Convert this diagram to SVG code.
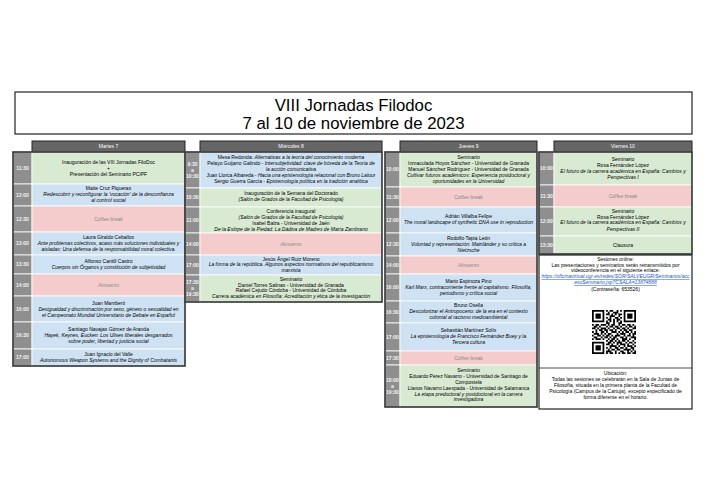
<svg xmlns="http://www.w3.org/2000/svg" width="707" height="500" viewBox="0 0 707 500">
<style>
.t{font-family:"Liberation Sans",Arial,sans-serif;font-size:5px;text-anchor:middle;fill:#000}
.i{font-style:italic}
.cb{fill:#8a8a8a}
.tm{font-family:"Liberation Sans",Arial,sans-serif;font-size:5px;font-weight:bold;text-anchor:middle;fill:#f2f2f2}
.g{fill:#d9ead3;stroke:#fff;stroke-width:0.8}
.b{fill:#cfe2f3;stroke:#fff;stroke-width:0.8}
.p{fill:#f4cccc;stroke:#fff;stroke-width:0.8}
.tc{fill:#8f8f8f;stroke:#fff;stroke-width:0.8}
.frame{fill:none;stroke:#333;stroke-width:1.6}
.hd{fill:#666;stroke:#222;stroke-width:1}
.ht{font-family:"Liberation Sans",Arial,sans-serif;font-size:5px;fill:#fff;text-anchor:middle}
.ttl{font-family:"Liberation Sans",Arial,sans-serif;font-size:16.8px;text-anchor:middle;fill:#000}
.lk{fill:#1a56c8;text-decoration:underline;font-style:italic}
</style>
<rect width="707" height="500" fill="#fff"/>
<g id="title">
<rect x="15" y="92" width="677" height="42" fill="#fff" stroke="#222" stroke-width="1.2"/>
<text class="ttl" x="353.5" y="111">VIII Jornadas Filodoc</text>
<text class="ttl" x="353.5" y="129">7 al 10 de noviembre de 2023</text>
</g>
<g id="headers">
<rect class="hd" x="32" y="141" width="153" height="11"/><text class="ht" x="108.5" y="148.3">Martes 7</text>
<rect class="hd" x="200" y="141" width="182" height="11"/><text class="ht" x="291" y="148.3">Miércoles 8</text>
<rect class="hd" x="400" y="141" width="137" height="11"/><text class="ht" x="468.5" y="148.3">Jueves 9</text>
<rect class="hd" x="554" y="141" width="138" height="11"/><text class="ht" x="623" y="148.3">Viernes 10</text>
</g>

<g id="martes">
<g id="ma1"><rect class="tc" x="13" y="152" width="19" height="32"/><rect class="g" x="32" y="152" width="153" height="32"/>
<text class="tm" x="22.5" y="169.8">11:30</text>
<text class="t" x="108.5" y="163.8">Inauguración de las VIII Jornadas FiloDoc</text>
<text class="t" x="108.5" y="169.8">+</text>
<text class="t" x="108.5" y="175.8">Presentación del Seminario PCIPF</text></g>
<g id="ma2"><rect class="tc" x="13" y="184" width="19" height="22"/><rect class="b" x="32" y="184" width="153" height="22"/>
<text class="tm" x="22.5" y="196.8">12:00</text>
<text class="t" x="108.5" y="190.3">Maite Cruz Piqueras</text>
<text class="t i" x="108.5" y="196.3">Redescubrir y reconfigurar la 'vocación' de la desconfianza</text>
<text class="t i" x="108.5" y="202.3">al control social</text></g>
<g id="ma3"><rect class="tc" x="13" y="206" width="19" height="26"/><rect class="p" x="32" y="206" width="153" height="26"/>
<text class="tm" x="22.5" y="220.8">12:30</text>
<text class="t cb" x="108.5" y="220.8">Coffee break</text></g>
<g id="ma4"><rect class="tc" x="13" y="232" width="19" height="23"/><rect class="b" x="32" y="232" width="153" height="23"/>
<text class="tm" x="22.5" y="245.3">13:00</text>
<text class="t" x="108.5" y="239.3">Laura Giraldo Ceballos</text>
<text class="t i" x="108.5" y="245.3">Ante problemas colectivos, acaso más soluciones individuales y</text>
<text class="t i" x="108.5" y="251.3">aisladas: Una defensa de la responsabilidad moral colectiva.</text></g>
<g id="ma5"><rect class="tc" x="13" y="255" width="19" height="19"/><rect class="b" x="32" y="255" width="153" height="19"/>
<text class="tm" x="22.5" y="266.3">13:30</text>
<text class="t" x="108.5" y="263.3">Alfonso Cantill Castro</text>
<text class="t i" x="108.5" y="269.3">Cuerpos sin Órganos y constitución de subjetividad</text></g>
<g id="ma6"><rect class="tc" x="13" y="274" width="19" height="22"/><rect class="p" x="32" y="274" width="153" height="22"/>
<text class="tm" x="22.5" y="286.8">14:00</text>
<text class="t i cb" x="108.5" y="286.8">Almuerzo</text></g>
<g id="ma7"><rect class="tc" x="13" y="296" width="19" height="26"/><rect class="b" x="32" y="296" width="153" height="26"/>
<text class="tm" x="22.5" y="310.8">16:00</text>
<text class="t" x="108.5" y="304.8">Juan Mamberti</text>
<text class="t i" x="108.5" y="310.8">Desigualdad y discriminación por sexo, género o sexualidad en</text>
<text class="t i" x="108.5" y="316.8">el Campeonato Mundial Universitario de Debate en Español</text></g>
<g id="ma8"><rect class="tc" x="13" y="322" width="19" height="27"/><rect class="b" x="32" y="322" width="153" height="27"/>
<text class="tm" x="22.5" y="337.3">16:30</text>
<text class="t" x="108.5" y="331.3">Santiago Navajas Gómez de Aranda</text>
<text class="t i" x="108.5" y="337.3">Hayek, Keynes, Eucken: Los Ulises liberales desgarrados</text>
<text class="t i" x="108.5" y="343.3">sobre poder, libertad y justicia social</text></g>
<g id="ma9"><rect class="tc" x="13" y="349" width="19" height="17"/><rect class="b" x="32" y="349" width="153" height="17"/>
<text class="tm" x="22.5" y="359.3">17:00</text>
<text class="t" x="108.5" y="356.3">Juan Ignacio del Valle</text>
<text class="t i" x="108.5" y="362.3">Autonomous Weapon Systems and the Dignity of Combatants</text></g>
<rect class="frame" x="13" y="152" width="172" height="214"/>
</g>

<g id="miercoles">
<g id="mi1"><rect class="tc" x="185" y="152" width="15" height="36"/><rect class="b" x="200" y="152" width="182" height="36"/>
<text class="tm" x="192.5" y="165.8">9:30</text><text class="tm" x="192.5" y="171.8">a</text><text class="tm" x="192.5" y="177.8">10:30</text>
<text class="t" x="291" y="158.8">Mesa Redonda: <tspan class="i">Alternativas a la teoría del conocimiento moderna</tspan></text>
<text class="t" x="291" y="164.8">Pelayo Guijarro Galindo - <tspan class="i">Intersubjetividad: clave de bóveda de la Teoría de</tspan></text>
<text class="t i" x="291" y="170.8">la acción comunicativa</text>
<text class="t" x="291" y="176.8">Juan Llorca Albareda - <tspan class="i">Hacia una epistemología relacional con Bruno Latour</tspan></text>
<text class="t" x="291" y="182.8">Sergio Guerra García - <tspan class="i">Epistemología política en la tradición analítica</tspan></text></g>
<g id="mi2"><rect class="tc" x="185" y="188" width="15" height="19"/><rect class="g" x="200" y="188" width="182" height="19"/>
<text class="tm" x="192.5" y="199.3">10:30</text>
<text class="t" x="291" y="195.3">Inauguración de la Semana del Doctorado</text>
<text class="t i" x="291" y="201.3">(Salón de Grados de la Facultad de Psicología)</text></g>
<g id="mi3"><rect class="tc" x="185" y="207" width="15" height="26"/><rect class="g" x="200" y="207" width="182" height="26"/>
<text class="tm" x="192.5" y="221.8">11:00</text>
<text class="t" x="291" y="213.3">Conferencia inaugural</text>
<text class="t i" x="291" y="219.1">(Salón de Grados de la Facultad de Psicología)</text>
<text class="t" x="291" y="224.9">Isabel Balza - Universidad de Jaén</text>
<text class="t i" x="291" y="230.7">De la Estirpe de la Piedad: La Dádiva de Madres de María Zambrano</text></g>
<g id="mi4"><rect class="tc" x="185" y="233" width="15" height="22"/><rect class="p" x="200" y="233" width="182" height="22"/>
<text class="tm" x="192.5" y="245.8">14:00</text>
<text class="t i cb" x="291" y="245.8">Almuerzo</text></g>
<g id="mi5"><rect class="tc" x="185" y="255" width="15" height="20"/><rect class="b" x="200" y="255" width="182" height="20"/>
<text class="tm" x="192.5" y="266.8">17:00</text>
<text class="t" x="291" y="260.8">Jesús Ángel Ruiz Moreno</text>
<text class="t i" x="291" y="266.3">La forma de la república. Algunos aspectos normativos del republicanismo</text>
<text class="t i" x="291" y="271.8">marxista</text></g>
<g id="mi6"><rect class="tc" x="185" y="275" width="15" height="27"/><rect class="g" x="200" y="275" width="182" height="27"/>
<text class="tm" x="192.5" y="284.3">17:30</text><text class="tm" x="192.5" y="290.3">a</text><text class="tm" x="192.5" y="296.3">19:30</text>
<text class="t" x="291" y="280.8">Seminario</text>
<text class="t" x="291" y="286.6">Daniel Torres Salinas - Universidad de Granada</text>
<text class="t" x="291" y="292.4">Rafael Cejudo Córdoba - Universidad de Córdoba</text>
<text class="t i" x="291" y="298.2">Carrera académica en Filosofía: Acreditación y ética de la investigación</text></g>
<rect class="frame" x="185" y="152" width="197" height="150"/>
</g>

<g id="jueves">
<g id="ju1"><rect class="tc" x="385" y="152" width="15" height="35"/><rect class="g" x="400" y="152" width="137" height="35"/>
<text class="tm" x="392.5" y="171.3">10:00</text>
<text class="t" x="468.5" y="159.3">Seminario</text>
<text class="t" x="468.5" y="165.3">Inmaculada Hoyos Sánchez - Universidad de Granada</text>
<text class="t" x="468.5" y="171.3">Manuel Sánchez Rodríguez - Universidad de Granada</text>
<text class="t i" x="468.5" y="177.3">Cultivar futuros académicos: Experiencia postdoctoral y</text>
<text class="t i" x="468.5" y="183.3">oportunidades en la Universidad</text></g>
<g id="ju2"><rect class="tc" x="385" y="187" width="15" height="20"/><rect class="p" x="400" y="187" width="137" height="20"/>
<text class="tm" x="392.5" y="198.8">11:30</text>
<text class="t cb" x="468.5" y="198.8">Coffee break</text></g>
<g id="ju3"><rect class="tc" x="385" y="207" width="15" height="26"/><rect class="b" x="400" y="207" width="137" height="26"/>
<text class="tm" x="392.5" y="221.8">12:00</text>
<text class="t" x="468.5" y="218.3">Adrián Villalba Felipe</text>
<text class="t i" x="468.5" y="224.3">The moral landscape of synthetic DNA use in reproduction</text></g>
<g id="ju4"><rect class="tc" x="385" y="233" width="15" height="23"/><rect class="b" x="400" y="233" width="137" height="23"/>
<text class="tm" x="392.5" y="246.3">12:30</text>
<text class="t" x="468.5" y="240.3">Rodolfo Tapia León</text>
<text class="t i" x="468.5" y="246.3">Voluntad y representación: Mainländer y su crítica a</text>
<text class="t i" x="468.5" y="252.3">Nietzsche</text></g>
<g id="ju5"><rect class="tc" x="385" y="256" width="15" height="18"/><rect class="p" x="400" y="256" width="137" height="18"/>
<text class="tm" x="392.5" y="266.8">14:00</text>
<text class="t i cb" x="468.5" y="266.8">Almuerzo</text></g>
<g id="ju6"><rect class="tc" x="385" y="274" width="15" height="27"/><rect class="b" x="400" y="274" width="137" height="27"/>
<text class="tm" x="392.5" y="289.3">16:00</text>
<text class="t" x="468.5" y="283.3">Mario Espinoza Pino</text>
<text class="t i" x="468.5" y="289.3">Karl Marx, contracorriente frente al capitalismo. Filosofía,</text>
<text class="t i" x="468.5" y="295.3">periodismo y crítica social</text></g>
<g id="ju7"><rect class="tc" x="385" y="301" width="15" height="22"/><rect class="b" x="400" y="301" width="137" height="22"/>
<text class="tm" x="392.5" y="313.8">16:30</text>
<text class="t" x="468.5" y="307.3">Bruno Osella</text>
<text class="t i" x="468.5" y="313.3">Descolonizar el Antropoceno: de la era en el contexto</text>
<text class="t i" x="468.5" y="319.3">colonial al racismo medioambiental</text></g>
<g id="ju8"><rect class="tc" x="385" y="323" width="15" height="28"/><rect class="b" x="400" y="323" width="137" height="28"/>
<text class="tm" x="392.5" y="338.8">17:00</text>
<text class="t" x="468.5" y="331.8">Sebastián Martínez Solís</text>
<text class="t i" x="468.5" y="337.8">La epistemología de Francisco Fernández Buey y la</text>
<text class="t i" x="468.5" y="343.8">Tercera cultura</text></g>
<g id="ju9"><rect class="tc" x="385" y="351" width="15" height="14"/><rect class="p" x="400" y="351" width="137" height="14"/>
<text class="tm" x="392.5" y="359.8">17:30</text>
<text class="t cb" x="468.5" y="359.8">Coffee break</text></g>
<g id="ju10"><rect class="tc" x="385" y="365" width="15" height="42"/><rect class="g" x="400" y="365" width="137" height="42"/>
<text class="tm" x="392.5" y="381.8">18:00</text><text class="tm" x="392.5" y="387.8">a</text><text class="tm" x="392.5" y="393.8">19:30</text>
<text class="t" x="468.5" y="372.3">Seminario</text>
<text class="t" x="468.5" y="378.1">Eduardo Pérez Navarro - Universidad de Santiago de</text>
<text class="t" x="468.5" y="383.9">Compostela</text>
<text class="t" x="468.5" y="389.7">Llanos Navarro Laespada - Universidad de Salamanca</text>
<text class="t i" x="468.5" y="395.5">La etapa predoctoral y postdoctoral en la carrera</text>
<text class="t i" x="468.5" y="401.3">investigadora</text></g>
<rect class="frame" x="385" y="152" width="152" height="255"/>
</g>

<g id="viernes">
<g id="vi1"><rect class="tc" x="539" y="152" width="15" height="33"/><rect class="g" x="554" y="152" width="138" height="33"/>
<text class="tm" x="546.5" y="170.3">10:00</text>
<text class="t" x="623" y="161.3">Seminario</text>
<text class="t" x="623" y="167.3">Rosa Fernández López</text>
<text class="t i" x="623" y="173.3">El futuro de la carrera académica en España: Cambios y</text>
<text class="t i" x="623" y="179.3">Perspectivas I</text></g>
<g id="vi2"><rect class="tc" x="539" y="185" width="15" height="22"/><rect class="p" x="554" y="185" width="138" height="22"/>
<text class="tm" x="546.5" y="197.8">11:30</text>
<text class="t cb" x="623" y="197.8">Coffee break</text></g>
<g id="vi3"><rect class="tc" x="539" y="207" width="15" height="29"/><rect class="g" x="554" y="207" width="138" height="29"/>
<text class="tm" x="546.5" y="223.3">12:00</text>
<text class="t" x="623" y="212.8">Seminario</text>
<text class="t" x="623" y="218.6">Rosa Fernández López</text>
<text class="t i" x="623" y="224.4">El futuro de la carrera académica en España: Cambios y</text>
<text class="t i" x="623" y="230.8">Perspectivas II</text></g>
<g id="vi4"><rect class="tc" x="539" y="236" width="15" height="18"/><rect class="g" x="554" y="236" width="138" height="18"/>
<text class="tm" x="546.5" y="246.8">13:30</text>
<text class="t" x="623" y="246.8">Clausura</text></g>
<rect class="frame" x="539" y="152" width="153" height="102"/>
</g>

<g id="info">
<rect x="539" y="255" width="153" height="154" fill="#fff" stroke="#222" stroke-width="1.2"/>
<line x1="539" y1="368" x2="692" y2="368" stroke="#222" stroke-width="0.8"/>
<text class="t" x="615.5" y="260.8">Sesiones online:</text>
<text class="t" x="615.5" y="266.6">Las presentaciones y seminarios serán retransmitidos por</text>
<text class="t" x="615.5" y="272.4">videoconferencia en el siguiente enlace:</text>
<text class="t lk" x="615.5" y="278.4">https://oficinavirtual.ugr.es/redes/SOR/SALVEUGR/Seminarios/acc</text>
<text class="t lk" x="615.5" y="284.4">esoSeminario.jsp?CSALA=13874888</text>
<text class="t" x="615.5" y="290.6">(Contraseña: 653526)</text>
<path transform="translate(592,310) scale(1.76)" fill="none" stroke="#000" stroke-width="1" d="M0 0.5h7m1 0h1m1 0h2m2 0h1m1 0h1m1 0h7M0 1.5h1m5 0h1m2 0h1m2 0h3m3 0h1m5 0h1M0 2.5h1m1 0h3m1 0h1m1 0h2m1 0h1m1 0h1m1 0h2m1 0h1m1 0h3m1 0h1M0 3.5h1m1 0h3m1 0h1m3 0h3m2 0h1m2 0h1m1 0h3m1 0h1M0 4.5h1m1 0h3m1 0h1m1 0h1m1 0h1m2 0h2m1 0h1m1 0h1m1 0h3m1 0h1M0 5.5h1m5 0h1m2 0h2m1 0h1m1 0h2m2 0h1m5 0h1M0 6.5h7m1 0h1m1 0h1m1 0h1m1 0h1m1 0h1m1 0h7M8 7.5h2m2 0h1m2 0h2M0 8.5h1m1 0h2m1 0h3m1 0h1m1 0h2m2 0h1m1 0h2m1 0h2m1 0h1M1 9.5h2m1 0h1m3 0h1m1 0h2m1 0h2m1 0h1m2 0h1m1 0h2m1 0h1M0 10.5h2m1 0h1m1 0h3m1 0h1m2 0h1m1 0h2m1 0h2m1 0h1m2 0h2M2 11.5h1m1 0h2m1 0h2m1 0h2m1 0h1m2 0h1m1 0h2m1 0h2M0 12.5h1m1 0h1m2 0h2m1 0h1m2 0h3m1 0h1m1 0h1m1 0h2m1 0h1m1 0h1M1 13.5h3m1 0h1m1 0h1m1 0h2m3 0h1m1 0h3m2 0h1m1 0h2M0 14.5h1m2 0h2m1 0h1m1 0h2m1 0h1m1 0h3m2 0h1m1 0h2m1 0h1M1 15.5h2m2 0h1m1 0h2m1 0h1m1 0h2m2 0h2m1 0h1m2 0h3M0 16.5h1m1 0h3m1 0h1m2 0h1m1 0h2m1 0h1m2 0h3m1 0h1m2 0h1M8 17.5h1m1 0h2m1 0h1m1 0h1m1 0h2m1 0h1m2 0h1M0 18.5h7m2 0h2m1 0h1m1 0h3m2 0h1m1 0h2m1 0h1M0 19.5h1m5 0h1m1 0h2m1 0h1m2 0h1m1 0h3m1 0h1m2 0h1M0 20.5h1m1 0h3m1 0h1m3 0h4m1 0h1m2 0h1m1 0h3m1 0h1M0 21.5h1m1 0h3m1 0h1m1 0h1m1 0h1m2 0h2m1 0h2m1 0h1m2 0h2M0 22.5h1m1 0h3m1 0h1m2 0h1m1 0h2m1 0h2m2 0h4m1 0h1M0 23.5h1m5 0h1m1 0h3m2 0h1m2 0h2m2 0h1m1 0h1m1 0h1M0 24.5h7m1 0h1m1 0h2m1 0h1m1 0h1m1 0h2m1 0h2m1 0h2"/>
<text class="t" x="615.5" y="374.8">Ubicación:</text>
<text class="t" x="615.5" y="380.8">Todas las sesiones se celebrarán en la Sala de Juntas de</text>
<text class="t" x="615.5" y="386.8">Filosofía, situada en la primera planta de la Facultad de</text>
<text class="t" x="615.5" y="392.8">Psicología (Campus de la Cartuja), excepto especificado de</text>
<text class="t" x="615.5" y="398.8">forma diferente en el horario.</text>
</g>
</svg>
